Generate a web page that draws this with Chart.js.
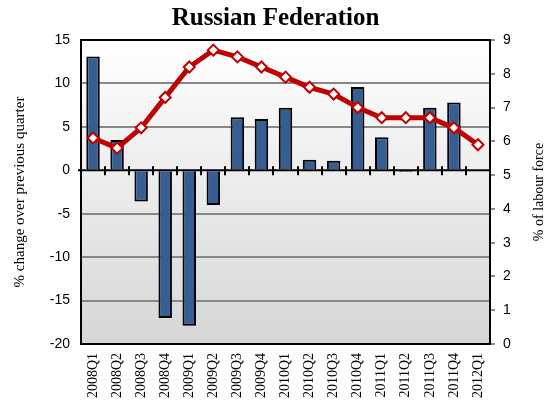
<!DOCTYPE html>
<html>
<head>
<meta charset="utf-8">
<title>Russian Federation</title>
<script src="https://cdn.jsdelivr.net/npm/chart.js@4"></script>
<style>
  html, body { margin: 0; padding: 0; background: #fff; }
</style>
</head>
<body>
<canvas id="ruChart" width="551" height="407"></canvas>
<script>
const quarters = ["2008Q1", "2008Q2", "2008Q3", "2008Q4", "2009Q1", "2009Q2", "2009Q3", "2009Q4",
  "2010Q1", "2010Q2", "2010Q3", "2010Q4", "2011Q1", "2011Q2", "2011Q3", "2011Q4", "2012Q1"];

// % change over previous quarter (left axis)
const changeQoQ = [13.1, 3.5, -3.6, -17.0, -17.9, -4.0, 6.1, 5.9,
  7.2, 1.2, 1.1, 9.6, 3.8, -0.2, 7.2, 7.8, null];

// % of labour force (right axis)
const labourShare = [6.1, 5.8, 6.4, 7.3, 8.2, 8.7, 8.5, 8.2,
  7.9, 7.6, 7.4, 7.0, 6.7, 6.7, 6.7, 6.4, 5.9];

const leftRange = [-20, 15, 5];
const rightRange = [0, 9, 1];

const serif = "'Liberation Serif', 'Times New Roman', serif";
const sans = "'Liberation Sans', Arial, sans-serif";

// grey gradient behind the plot
const plotBackground = {
  id: "plotBackground",
  beforeDraw(chart) {
    const { ctx, chartArea: a } = chart;
    const g = ctx.createLinearGradient(0, a.top, 0, a.bottom);
    g.addColorStop(0, "#ffffff");
    g.addColorStop(1, "#d6d6d6");
    ctx.save();
    ctx.fillStyle = g;
    ctx.fillRect(a.left, a.top, a.right - a.left, a.bottom - a.top);
    ctx.restore();
  }
};

// zero line with category ticks, frame, right axis title
const frame = {
  id: "frame",
  afterDatasetsDraw(chart) {
    const { ctx, chartArea: a, scales } = chart;
    const y0 = scales.y.getPixelForValue(0);
    ctx.save();
    ctx.strokeStyle = "#000";
    ctx.lineWidth = 2;
    ctx.beginPath();
    ctx.moveTo(a.left - 3, y0);
    ctx.lineTo(a.right, y0);
    for (let i = 1; i < quarters.length; i++) {
      const x = Math.round((scales.x.getPixelForValue(i - 1) + scales.x.getPixelForValue(i)) / 2);
      ctx.moveTo(x, y0 - 4);
      ctx.lineTo(x, y0 + 5);
    }
    ctx.stroke();
    ctx.strokeRect(a.left, a.top, a.right - a.left, a.bottom - a.top);
    ctx.restore();
  },
  afterDraw(chart) {
    const { ctx, chartArea: a } = chart;
    ctx.save();
    ctx.translate(539, (a.top + a.bottom) / 2);
    ctx.rotate(-Math.PI / 2);
    ctx.font = "14px " + serif;
    ctx.fillStyle = "#000";
    ctx.textAlign = "center";
    ctx.textBaseline = "middle";
    ctx.fillText("% of labour force", 0, 0);
    ctx.restore();
  }
};

new Chart(document.getElementById("ruChart"), {
  data: {
    labels: quarters,
    datasets: [{
      type: "line",
      data: labourShare,
      yAxisID: "y2",
      order: 0,
      borderColor: "#c00000",
      borderWidth: 5,
      tension: 0,
      pointStyle: "rectRot",
      pointRadius: 5.5,
      pointBorderWidth: 2,
      pointBackgroundColor: "#ffffff",
      pointBorderColor: "#c00000"
    }, {
      type: "bar",
      data: changeQoQ,
      yAxisID: "y",
      order: 1,
      backgroundColor: "#355e92",
      borderColor: "#000000",
      borderWidth: 2,
      barPercentage: 0.56,
      categoryPercentage: 1
    }]
  },
  options: {
    responsive: false,
    devicePixelRatio: 1,
    animation: false,
    layout: { padding: 0 },
    plugins: {
      legend: { display: false },
      tooltip: { enabled: false },
      title: {
        display: true,
        text: "Russian Federation",
        color: "#000",
        font: { family: serif, size: 25, weight: "bold" },
        padding: { top: 4, bottom: 6 }
      }
    },
    scales: {
      x: {
        grid: { display: false, drawTicks: false },
        border: { display: false },
        ticks: {
          autoSkip: false,
          minRotation: 90,
          maxRotation: 90,
          padding: 9,
          color: "#000",
          font: { family: serif, size: 14 }
        },
        afterFit(s) { s.height = 63; }
      },
      y: {
        position: "left",
        min: leftRange[0],
        max: leftRange[1],
        border: { display: false },
        grid: {
          lineWidth: 2,
          tickLength: 4,
          color: c => (c.tick && c.tick.value !== 0 && c.tick.value !== leftRange[0] && c.tick.value !== leftRange[1]) ? "#878787" : "rgba(0,0,0,0)",
          tickColor: "rgba(0,0,0,0)"
        },
        ticks: {
          stepSize: leftRange[2],
          padding: 7,
          color: "#000",
          font: { family: sans, size: 14 }
        },
        title: {
          display: true,
          text: "% change over previous quarter",
          color: "#000",
          font: { family: serif, size: 15 },
          padding: { top: 11, bottom: 0 }
        },
        afterFit(s) { s.width = 81; }
      },
      y2: {
        position: "right",
        min: rightRange[0],
        max: rightRange[1],
        border: { display: false },
        grid: {
          drawOnChartArea: false,
          tickLength: 5,
          lineWidth: 2,
          color: "#8c8c8c"
        },
        ticks: {
          stepSize: rightRange[2],
          padding: 8,
          color: "#000",
          font: { family: sans, size: 14 }
        },
        afterFit(s) { s.width = 61; }
      }
    }
  },
  plugins: [plotBackground, frame]
});
</script>
</body>
</html>
